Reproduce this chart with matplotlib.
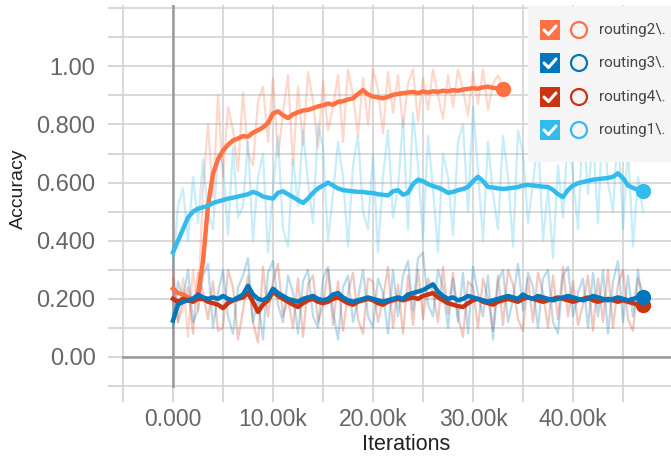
import numpy as np
import matplotlib
matplotlib.use("Agg")
import matplotlib.pyplot as plt
from matplotlib.patches import Rectangle, Ellipse
from matplotlib.lines import Line2D

plt.rcParams['font.family'] = ['Liberation Sans', 'DejaVu Sans']

# ---------------- data ----------------
series_names = ["routing2\\.", "routing3\\.", "routing4\\.", "routing1\\."]
series_colors = ["#ff7043", "#0077bb", "#cc3311", "#33bbee"]

steps_long = np.arange(0, 47001, 500)     # routing1/3/4
steps_short = np.arange(0, 33001, 500)    # routing2

routing2_smooth = [
    0.235, 0.22, 0.215, 0.205, 0.20, 0.21, 0.33, 0.52, 0.63, 0.68,
    0.71, 0.73, 0.745, 0.752, 0.76, 0.758, 0.772, 0.78, 0.79, 0.805,
    0.838, 0.845, 0.832, 0.822, 0.835, 0.842, 0.848, 0.85, 0.856, 0.862,
    0.866, 0.872, 0.868, 0.878, 0.88, 0.886, 0.89, 0.905, 0.918, 0.903,
    0.896, 0.893, 0.89, 0.895, 0.902, 0.905, 0.908, 0.91, 0.912, 0.908,
    0.913, 0.91, 0.914, 0.912, 0.916, 0.914, 0.918, 0.916, 0.92, 0.922,
    0.925, 0.923, 0.928, 0.93, 0.926, 0.924, 0.922]
routing2_raw = [
    0.31, 0.12, 0.27, 0.07, 0.30, 0.16, 0.58, 0.80, 0.55, 0.90,
    0.62, 0.86, 0.78, 0.64, 0.91, 0.70, 0.66, 0.88, 0.93, 0.74,
    0.96, 0.69, 0.84, 0.97, 0.66, 0.93, 0.73, 0.98, 0.88, 0.72,
    0.95, 0.78, 0.86, 0.97, 0.74, 0.99, 0.90, 0.76, 0.96, 0.80,
    0.99, 0.92, 0.77, 0.98, 0.84, 0.97, 0.79, 0.94, 0.99, 0.81,
    0.96, 0.85, 0.99, 0.90, 0.82, 0.97, 0.86, 0.99, 0.92, 0.83,
    0.98, 0.87, 0.99, 0.85, 0.94, 0.97, 0.92]

routing1_smooth = [
    0.36, 0.40, 0.44, 0.48, 0.50, 0.51, 0.515, 0.52, 0.53, 0.535,
    0.54, 0.545, 0.548, 0.552, 0.556, 0.56, 0.568, 0.562, 0.552, 0.548,
    0.545, 0.565, 0.57, 0.56, 0.55, 0.54, 0.53, 0.545, 0.565, 0.58,
    0.59, 0.60, 0.59, 0.58, 0.574, 0.572, 0.57, 0.568, 0.568, 0.565,
    0.564, 0.56, 0.558, 0.556, 0.57, 0.574, 0.558, 0.565, 0.595, 0.61,
    0.605, 0.595, 0.588, 0.583, 0.575, 0.565, 0.568, 0.574, 0.578, 0.585,
    0.605, 0.62, 0.605, 0.585, 0.583, 0.58, 0.578, 0.58, 0.582, 0.585,
    0.59, 0.592, 0.59, 0.588, 0.586, 0.585, 0.575, 0.56, 0.55, 0.575,
    0.59, 0.598, 0.602, 0.606, 0.61, 0.612, 0.614, 0.616, 0.62, 0.632,
    0.615, 0.59, 0.582, 0.575, 0.572]
routing1_raw = [
    0.30, 0.52, 0.58, 0.40, 0.62, 0.46, 0.68, 0.50, 0.44, 0.70,
    0.66, 0.42, 0.72, 0.48, 0.52, 0.74, 0.40, 0.62, 0.70, 0.36,
    0.58, 0.76, 0.44, 0.38, 0.68, 0.52, 0.78, 0.60, 0.46, 0.80,
    0.72, 0.40, 0.56, 0.74, 0.62, 0.38, 0.66, 0.76, 0.50, 0.44,
    0.70, 0.36, 0.62, 0.78, 0.48, 0.58, 0.82, 0.44, 0.84, 0.66,
    0.40, 0.76, 0.58, 0.36, 0.70, 0.62, 0.42, 0.74, 0.80, 0.50,
    0.86, 0.64, 0.40, 0.74, 0.56, 0.44, 0.76, 0.62, 0.38, 0.78,
    0.70, 0.46, 0.60, 0.76, 0.40, 0.58, 0.34, 0.66, 0.48, 0.78,
    0.62, 0.44, 0.80, 0.56, 0.76, 0.46, 0.84, 0.60, 0.50, 0.80,
    0.44, 0.72, 0.38, 0.62, 0.50]

routing3_smooth = [
    0.125, 0.18, 0.19, 0.195, 0.20, 0.215, 0.205, 0.20, 0.205, 0.20,
    0.21, 0.20, 0.195, 0.205, 0.215, 0.245, 0.215, 0.20, 0.195, 0.205,
    0.235, 0.22, 0.21, 0.20, 0.195, 0.19, 0.20, 0.205, 0.21, 0.20,
    0.195, 0.20, 0.215, 0.22, 0.205, 0.195, 0.19, 0.195, 0.20, 0.205,
    0.20, 0.195, 0.19, 0.195, 0.20, 0.205, 0.20, 0.215, 0.22, 0.225,
    0.23, 0.24, 0.25, 0.225, 0.21, 0.20, 0.205, 0.195, 0.20, 0.21,
    0.205, 0.20, 0.195, 0.19, 0.195, 0.20, 0.205, 0.21, 0.205, 0.20,
    0.215, 0.205, 0.20, 0.21, 0.205, 0.20, 0.195, 0.20, 0.205, 0.21,
    0.205, 0.20, 0.195, 0.20, 0.21, 0.205, 0.20, 0.195, 0.20, 0.205,
    0.20, 0.195, 0.20, 0.205, 0.205]
routing3_raw = [
    0.10, 0.26, 0.20, 0.30, 0.12, 0.16, 0.28, 0.32, 0.10, 0.22,
    0.30, 0.14, 0.08, 0.24, 0.28, 0.34, 0.12, 0.20, 0.06, 0.29,
    0.33, 0.18, 0.12, 0.28, 0.22, 0.08, 0.26, 0.30, 0.14, 0.10,
    0.27, 0.31, 0.16, 0.06, 0.24, 0.28, 0.12, 0.20, 0.30, 0.14,
    0.10, 0.27, 0.22, 0.08, 0.30, 0.14, 0.28, 0.33, 0.16, 0.34,
    0.36, 0.18, 0.14, 0.30, 0.24, 0.10, 0.27, 0.12, 0.29, 0.08,
    0.31, 0.22, 0.14, 0.28, 0.06, 0.26, 0.30, 0.12, 0.20, 0.32,
    0.16, 0.29, 0.24, 0.10, 0.27, 0.30, 0.12, 0.08, 0.28, 0.31,
    0.14, 0.22, 0.27, 0.10, 0.29, 0.14, 0.30, 0.08, 0.26, 0.33,
    0.12, 0.28, 0.14, 0.30, 0.16]

routing4_smooth = [
    0.20, 0.19, 0.20, 0.195, 0.19, 0.20, 0.20, 0.19, 0.185, 0.18,
    0.168, 0.185, 0.195, 0.20, 0.205, 0.22, 0.19, 0.155, 0.18, 0.195,
    0.225, 0.21, 0.20, 0.19, 0.18, 0.172, 0.185, 0.195, 0.20, 0.19,
    0.185, 0.19, 0.20, 0.205, 0.195, 0.185, 0.18, 0.19, 0.195, 0.20,
    0.195, 0.185, 0.18, 0.19, 0.195, 0.20, 0.195, 0.20, 0.205, 0.20,
    0.21, 0.215, 0.22, 0.205, 0.195, 0.185, 0.18, 0.175, 0.172, 0.185,
    0.195, 0.20, 0.19, 0.185, 0.18, 0.19, 0.195, 0.20, 0.195, 0.19,
    0.20, 0.205, 0.20, 0.195, 0.19, 0.195, 0.20, 0.205, 0.20, 0.195,
    0.19, 0.195, 0.20, 0.205, 0.195, 0.19, 0.195, 0.20, 0.195, 0.19,
    0.195, 0.19, 0.185, 0.18, 0.18]
routing4_raw = [
    0.27, 0.12, 0.18, 0.24, 0.08, 0.29, 0.22, 0.13, 0.26, 0.09,
    0.10, 0.30, 0.24, 0.06, 0.16, 0.28, 0.12, 0.05, 0.31, 0.14,
    0.26, 0.32, 0.14, 0.20, 0.10, 0.27, 0.07, 0.25, 0.28, 0.12,
    0.18, 0.30, 0.11, 0.26, 0.09, 0.22, 0.29, 0.13, 0.08, 0.27,
    0.26, 0.12, 0.20, 0.31, 0.10, 0.25, 0.08, 0.28, 0.11, 0.30,
    0.13, 0.27, 0.22, 0.12, 0.31, 0.15, 0.29, 0.14, 0.07, 0.26,
    0.24, 0.10, 0.27, 0.20, 0.09, 0.28, 0.11, 0.30, 0.25, 0.13,
    0.09, 0.27, 0.12, 0.29, 0.22, 0.10, 0.28, 0.13, 0.31, 0.14,
    0.26, 0.11, 0.18, 0.28, 0.09, 0.27, 0.12, 0.30, 0.10, 0.25,
    0.30, 0.13, 0.09, 0.27, 0.22]

y_tick_values = [-0.1, 0.0, 0.1, 0.2, 0.3, 0.4, 0.5, 0.6, 0.7, 0.8, 0.9, 1.0, 1.1, 1.2]
y_tick_labels = ["", "0.00", "", "0.200", "", "0.400", "", "0.600", "", "0.800", "", "1.00", "", ""]
x_tick_values = [-5000, 0, 5000, 10000, 15000, 20000, 25000, 30000, 35000, 40000, 45000]
x_tick_labels = ["", "0.000", "", "10.00k", "", "20.00k", "", "30.00k", "", "40.00k", ""]

# ---------------- figure ----------------
W, H = 671, 457
fig = plt.figure(figsize=(W / 100, H / 100), dpi=100)
fig.patch.set_facecolor("white")

def fx(px):
    return px / W

def fy(py):
    return 1 - py / H

ax = fig.add_axes([fx(122), fy(387.5), 549 / W, 382.2 / H])
ax.set_xlim(-5100, 49800)
ax.set_ylim(-0.105, 1.21)
for s in ax.spines.values():
    s.set_visible(False)

ax.set_yticks(y_tick_values)
ax.set_yticklabels(y_tick_labels)
ax.set_xticks(x_tick_values)
ax.set_xticklabels(x_tick_labels)
ax.tick_params(axis="both", length=10, width=1.2, color="#cfcfcf",
               labelcolor="#666666")
ax.tick_params(axis="y", pad=9, labelsize=17)
ax.tick_params(axis="x", pad=5, labelsize=16.5)
ax.grid(True, color="#d3d3d3", lw=1.2, zorder=0)
ax.set_axisbelow(True)
ax.axhline(0, color="#9a9a9a", lw=1.8, zorder=1)
ax.axvline(0, color="#9a9a9a", lw=1.8, zorder=1)

# raw (faint) traces
raw_sets = [(steps_short, routing2_raw, series_colors[0]),
            (steps_long, routing4_raw, series_colors[2]),
            (steps_long, routing3_raw, series_colors[1]),
            (steps_long, routing1_raw, series_colors[3])]
for xs, ys, c in raw_sets:
    ax.plot(xs, ys, color=c, alpha=0.27, lw=1.6, zorder=2)

# smoothed traces
smooth_sets = [(steps_short, routing2_smooth, series_colors[0]),
               (steps_long, routing4_smooth, series_colors[2]),
               (steps_long, routing3_smooth, series_colors[1]),
               (steps_long, routing1_smooth, series_colors[3])]
for xs, ys, c in smooth_sets:
    ax.plot(xs, ys, color=c, lw=3.2, zorder=3, solid_joinstyle="round")
    ax.plot(xs[-1], ys[-1], "o", color=c, ms=10, zorder=4)

# axis labels
fig.text(fx(18), fy(189), "Accuracy", rotation=90, ha="center", va="center",
         fontsize=14, color="#222222")
fig.text(fx(406), fy(445), "Iterations", ha="center", va="center",
         fontsize=15.5, color="#222222")

# legend panel
fig.add_artist(Rectangle((fx(528), fy(162)), (W - 528) / W, (162 - 6) / H,
                         transform=fig.transFigure, facecolor="#f5f5f5",
                         edgecolor="none", zorder=10))
row_y = [30, 63, 97, 130]
for name, c, ry in zip(series_names, series_colors, row_y):
    fig.add_artist(Rectangle((fx(540), fy(ry + 10)), 20 / W, 20 / H,
                             transform=fig.transFigure, facecolor=c,
                             edgecolor="none", zorder=11))
    fig.add_artist(Line2D([fx(544), fx(548.5), fx(556)],
                          [fy(ry), fy(ry + 4.5), fy(ry - 4)],
                          transform=fig.transFigure, color="white", lw=2.2,
                          solid_capstyle="round", solid_joinstyle="round",
                          zorder=12))
    fig.add_artist(Ellipse((fx(579), fy(ry)), 16 / W, 16 / H,
                           transform=fig.transFigure, facecolor="none",
                           edgecolor=c, lw=1.6, zorder=11))
    fig.text(fx(599), fy(ry), name, ha="left", va="center", fontsize=11,
             color="#444444", family=["Roboto", "DejaVu Sans"], zorder=12)

fig.savefig("out.png", dpi=100, facecolor="white")
